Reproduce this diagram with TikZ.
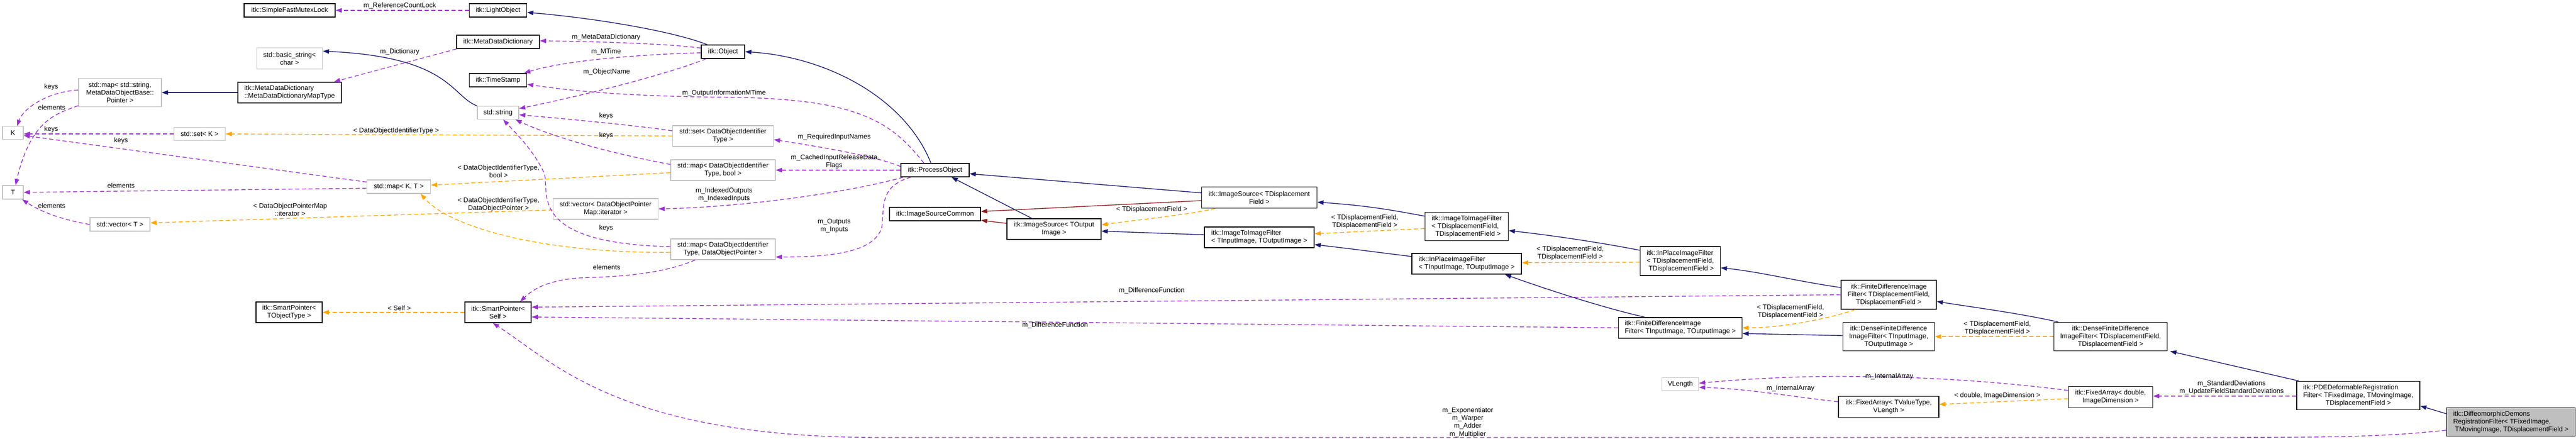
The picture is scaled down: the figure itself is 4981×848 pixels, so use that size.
\documentclass[tikz,border=0pt]{standalone}
\usepackage{fontspec}
\setmainfont{Liberation Sans}
\usetikzlibrary{arrows.meta,calc}
\definecolor{navy}{HTML}{191970}
\definecolor{dred}{HTML}{8B1A1A}
\definecolor{purp}{HTML}{9A32CD}
\definecolor{orng}{HTML}{FFA500}
\definecolor{gbord}{HTML}{BFBFBF}
\definecolor{gfill}{HTML}{BFBFBF}
\newcommand\fs{\fontsize{3.7}{4.3}\selectfont}
\tikzset{
 base/.style={draw, line width=0.45pt, inner sep=0pt, font=\fs, align=center, fill=white},
 bk/.style={base, draw=black},
 gy/.style={base, draw=gbord},
 lft/.style={align=left},
 lbl/.style={font=\fs, align=center, inner sep=0pt},
 tip/.style={-{Triangle[length=0.12cm,width=0.085cm]}},
 nv/.style={draw=navy, line width=0.4pt, tip},
 rd/.style={draw=dred, line width=0.4pt, tip},
 pu/.style={draw=purp, line width=0.4pt, dash pattern=on 0.08cm off 0.05cm, tip},
 og/.style={draw=orng, line width=0.4pt, dash pattern=on 0.08cm off 0.05cm, tip},
}
\newcommand\bx[6]{\node[#1, minimum width=#4*0.01cm, minimum height=#5*0.01cm] (#2) at #3 {#6};}
\begin{document}
\begin{tikzpicture}[x=0.01cm,y=-0.01cm]
\useasboundingbox (0,0) rectangle (4981,848);
% nodes
\bx{bk}{smfl}{(560,20)}{176}{26}{itk::SimpleFastMutexLock}
\bx{gy}{bstr}{(560,113)}{127}{41}{std::basic\_string<\\char >}
\bx{gy}{mapstr}{(232,179)}{160}{55}{std::map< std::string,\\MetaDataObjectBase::\\Pointer >}
\bx{bk,lft}{mdmt}{(560,179)}{200}{40}{itk::MetaDataDictionary\\::MetaDataDictionaryMapType}
\bx{gy}{K}{(25,257)}{40}{25}{K}
\bx{gy}{setK}{(386,259)}{99}{25}{std::set< K >}
\bx{gy}{T}{(25,372)}{40}{26}{T}
\bx{gy}{mapKT}{(771,361)}{123}{26}{std::map< K, T >}
\bx{gy}{vecT}{(232,434)}{116}{26}{std::vector< T >}
\bx{bk}{spto}{(559,604)}{128}{40}{itk::SmartPointer<\\TObjectType >}
\bx{bk}{lo}{(963,20)}{111}{26}{itk::LightObject}
\bx{bk}{mdd}{(963,81)}{160}{26}{itk::MetaDataDictionary}
\bx{bk}{obj}{(1398,100)}{84}{26}{itk::Object}
\bx{bk}{ts}{(963,155)}{111}{26}{itk::TimeStamp}
\bx{gy}{str}{(963,218)}{80}{25}{std::string}
\bx{gy}{setD}{(1398,263)}{195}{40}{std::set< DataObjectIdentifier\\Type >}
\bx{gy}{mapDb}{(1398,329)}{202}{40}{std::map< DataObjectIdentifier\\Type, bool >}
\bx{gy}{vecI}{(1171,404)}{203}{40}{std::vector< DataObjectPointer\\Map::iterator >}
\bx{gy}{mapDP}{(1398,482)}{202}{40}{std::map< DataObjectIdentifier\\Type, DataObjectPointer >}
\bx{bk}{sps}{(963,604)}{128}{40}{itk::SmartPointer<\\Self >}
\bx{bk}{po}{(1808,329)}{132}{26}{itk::ProcessObject}
\bx{bk}{isc}{(1808,414)}{176}{26}{itk::ImageSourceCommon}
\bx{bk}{isto}{(2038,443)}{182}{40}{itk::ImageSource< TOutput\\Image >}
\bx{bk}{isdf}{(2435,382)}{223}{41}{itk::ImageSource< TDisplacement\\Field >}
\bx{bk,lft}{iito}{(2435,459)}{212}{40}{itk::ImageToImageFilter\\< TInputImage, TOutputImage >}
\bx{bk,lft}{iidf}{(2836,438)}{161}{55}{itk::ImageToImageFilter\\< TDisplacementField,\\\ \ TDisplacementField >}
\bx{bk,lft}{ipto}{(2836,510)}{212}{40}{itk::InPlaceImageFilter\\< TInputImage, TOutputImage >}
\bx{bk,lft}{ipdf}{(3249,505)}{155}{56}{itk::InPlaceImageFilter\\< TDisplacementField,\\\ TDisplacementField >}
\bx{bk,lft}{fdto}{(3249,634)}{239}{40}{itk::FiniteDifferenceImage\\Filter< TInputImage, TOutputImage >}
\bx{gy}{vl}{(3249,743)}{71}{25}{VLength}
\bx{bk}{fddf}{(3652,570)}{184}{56}{itk::FiniteDifferenceImage\\Filter< TDisplacementField,\\TDisplacementField >}
\bx{bk}{dfto}{(3652,651)}{177}{55}{itk::DenseFiniteDifference\\ImageFilter< TInputImage,\\TOutputImage >}
\bx{bk}{dfdf}{(4081,651)}{219}{55}{itk::DenseFiniteDifference\\ImageFilter< TDisplacementField,\\TDisplacementField >}
\bx{bk}{fatv}{(3652,787)}{194}{41}{itk::FixedArray< TValueType,\\VLength >}
\bx{bk}{fad}{(4081,768)}{163}{41}{itk::FixedArray< double,\\ImageDimension >}
\bx{bk,lft}{pde}{(4560,765)}{238}{55}{itk::PDEDeformableRegistration\\Filter< TFixedImage, TMovingImage,\\\ \ \ \ \ \ \ \ \ \ \ \ TDisplacementField >}
\bx{bk,lft,fill=gfill}{dif}{(4855,816)}{249}{55}{itk::DiffeomorphicDemons\\RegistrationFilter< TFixedImage,\\\ TMovingImage, TDisplacementField >}
% edges
\draw[pu] (lo.west) -- (smfl.east);
\draw[pu] (mdd.south west) to[out=195,in=15] ($(mdmt.north east)+(-15,0)$);
\draw[nv] (str.north west) .. controls (872,185) and (870,110) .. ($(bstr.east)+(0,-14)$);
\draw[nv] (mdmt.west) -- (mapstr.east);
\draw[pu] ($(mapstr.west)+(0,-5)$) .. controls (90,178) and (45,210) .. ($(K.north)+(8,0)$);
\draw[pu] ($(mapstr.south west)+(0,-3)$) .. controls (110,220) and (60,230) .. ($(T.north)+(5,0)$);
\draw[pu] (setK.west) -- ($(K.east)+(0,2)$);
\draw[pu] ($(mapKT.west)+(0,-9)$) -- ($(K.east)+(0,5)$);
\draw[pu] ($(mapKT.west)+(0,3)$) -- (T.east);
\draw[pu] (vecT.west) .. controls (120,425) and (80,410) .. ($(T.south east)+(-3,0)$);
\draw[og] (setD.west) -- (setK.east);
\draw[og] ($(mapDb.west)+(0,5)$) -- ($(mapKT.east)+(0,-3)$);
\draw[og] ($(mapDP.west)+(0,6)$) .. controls (1050,490) and (870,440) .. ($(mapKT.south east)+(-20,0)$);
\draw[og] ($(vecI.west)+(0,2)$) -- ($(vecT.east)+(0,-3)$);
\draw[nv] ($(obj.north west)+(12,0)$) .. controls (1300,60) and (1150,35) .. ($(lo.east)+(0,4)$);
\draw[pu] ($(obj.west)+(0,-7)$) .. controls (1300,85) and (1150,80) .. ($(mdd.east)+(0,-2)$);
\draw[pu] ($(obj.west)+(0,2)$) .. controls (1250,105) and (1100,115) .. ($(ts.north east)+(-6,0)$);
\draw[pu] ($(obj.south west)+(10,0)$) .. controls (1300,140) and (1150,180) .. ($(str.east)+(0,-8)$);
\draw[nv] ($(po.north)+(-8,0)$) .. controls (1750,190) and (1600,110) .. (obj.east);
\draw[pu] ($(po.north west)+(45,0)$) .. controls (1720,230) and (1650,190) .. (1400,188) .. controls (1200,186) and (1100,175) .. ($(ts.east)+(0,8)$);
\draw[pu] ($(setD.west)+(0,-10)$) .. controls (1250,245) and (1100,230) .. ($(str.east)+(0,4)$);
\draw[pu] ($(mapDb.west)+(0,-11)$) .. controls (1200,300) and (1080,270) .. ($(str.south east)+(-7,0)$);
\draw[pu] ($(mapDP.west)+(0,-5)$) .. controls (1000,470) and (1070,360) .. (1050,330) .. controls (1030,290) and (1000,260) .. ($(str.south)+(10,0)$);
\draw[pu] ($(po.west)+(0,-7)$) .. controls (1690,300) and (1560,280) .. ($(setD.east)+(0,7)$);
\draw[pu] (po.west) -- (mapDb.east);
\draw[pu] ($(po.south west)+(5,0)$) .. controls (1650,370) and (1450,400) .. ($(vecI.east)+(0,0)$);
\draw[pu] ($(po.south west)+(20,0)$) .. controls (1700,360) and (1710,400) .. (1705,440) .. controls (1690,490) and (1600,497) .. ($(mapDP.east)+(0,15)$);
\draw[pu] ($(mapDP.south west)+(48,0)$) .. controls (1280,530) and (1200,535) .. (1130,537) .. controls (1060,540) and (1030,560) .. ($(sps.north east)+(-22,0)$);
\draw[pu] ($(fddf.west)+(0,0)$) -- ($(sps.east)+(0,-10)$);
\draw[pu] (fdto.west) -- ($(sps.east)+(0,9)$);
\draw[pu] ($(dif.west)+(0,16)$) .. controls (4600,846) and (4500,846) .. (4200,846) -- (1700,846) .. controls (1200,846) and (1070,700) .. ($(sps.south)+(-10,0)$);
\draw[og] (sps.west) -- (spto.east);
\draw[nv] ($(isto.north)+(-43,0)$) -- ($(po.south)+(32,0)$);
\draw[rd] ($(isto.west)+(0,-11)$) -- ($(isc.east)+(0,12)$);
\draw[nv] ($(isdf.west)+(0,-9)$) -- ($(po.east)+(0,7)$);
\draw[rd] ($(isdf.west)+(0,6)$) -- ($(isc.east)+(0,-5)$);
\draw[og] ($(isdf.south west)+(27,0)$) .. controls (2300,415) and (2200,425) .. ($(isto.east)+(0,-8)$);
\draw[nv] ($(iito.west)+(0,-5)$) -- ($(isto.east)+(0,4)$);
\draw[nv] ($(iidf.west)+(0,-20)$) .. controls (2700,408) and (2650,398) .. ($(isdf.east)+(0,9)$);
\draw[og] ($(iidf.west)+(0,4)$) -- ($(iito.east)+(0,-7)$);
\draw[nv] ($(ipto.west)+(0,-14)$) .. controls (2680,490) and (2620,482) .. ($(iito.east)+(0,14)$);
\draw[nv] ($(ipdf.west)+(0,-21)$) .. controls (3100,470) and (3000,455) .. ($(iidf.east)+(0,8)$);
\draw[og] ($(ipdf.west)+(0,2)$) -- ($(ipto.east)+(0,-2)$);
\draw[nv] ($(fdto.north)+(-69,0)$) .. controls (3120,600) and (3020,570) .. ($(ipto.south)+(74,0)$);
\draw[nv] ($(fddf.west)+(0,-14)$) .. controls (3480,545) and (3400,525) .. ($(ipdf.east)+(0,13)$);
\draw[og] ($(fddf.south)+(-65,0)$) .. controls (3540,615) and (3450,634) .. ($(fdto.east)+(0,0)$);
\draw[nv] ($(dfto.west)+(0,-2)$) -- ($(fdto.east)+(0,11)$);
\draw[nv] ($(dfdf.north)+(-101,0)$) .. controls (3900,605) and (3820,595) .. ($(fddf.east)+(0,13)$);
\draw[og] (dfdf.west) -- (dfto.east);
\draw[nv] ($(pde.north)+(-115,0)$) -- ($(dfdf.south east)+(5,0)$);
\draw[nv] ($(dif.west)+(0,-16)$) -- ($(pde.east)+(0,20)$);
\draw[pu] ($(pde.west)+(0,1)$) -- ($(fad.east)+(0,-2)$);
\draw[og] ($(fad.west)+(0,3)$) -- ($(fatv.east)+(0,-5)$);
\draw[pu] ($(fad.west)+(0,-13)$) .. controls (3800,730) and (3650,728) .. (3550,728) .. controls (3450,728) and (3350,735) .. ($(vl.east)+(0,-2)$);
\draw[pu] ($(fatv.west)+(0,-10)$) .. controls (3450,765) and (3380,752) .. ($(vl.east)+(0,6)$);
% labels
\node[lbl] (l1) at (773,11) {m\_ReferenceCountLock};
\node[lbl] (l2) at (773,100) {m\_Dictionary};
\node[lbl] (l3) at (99,168) {keys};
\node[lbl] (l4) at (100,208) {elements};
\node[lbl] (l5) at (99,250) {keys};
\node[lbl] (l6) at (234,272) {keys};
\node[lbl] (l7) at (234,359) {elements};
\node[lbl] (l8) at (100,398) {elements};
\node[lbl] (l9) at (766,253) {< DataObjectIdentifierType >};
\node[lbl] (l10) at (964,331) {< DataObjectIdentifierType,\\bool >};
\node[lbl] (l11) at (964,396) {< DataObjectIdentifierType,\\DataObjectPointer >};
\node[lbl] (l12) at (561,405) {< DataObjectPointerMap\\::iterator >};
\node[lbl] (l13) at (1172,72) {m\_MetaDataDictionary};
\node[lbl] (l14) at (1172,100) {m\_MTime};
\node[lbl] (l15) at (1173,139) {m\_ObjectName};
\node[lbl] (l16) at (1400,180) {m\_OutputInformationMTime};
\node[lbl] (l17) at (1172,224) {keys};
\node[lbl] (l18) at (1172,262) {keys};
\node[lbl] (l19) at (1172,441) {keys};
\node[lbl] (l20) at (1613,265) {m\_RequiredInputNames};
\node[lbl] (l21) at (1613,313) {m\_CachedInputReleaseData\\Flags};
\node[lbl] (l22) at (1400,377) {m\_IndexedOutputs\\m\_IndexedInputs};
\node[lbl] (l23) at (1613,437) {m\_Outputs\\m\_Inputs};
\node[lbl] (l24) at (1173,517) {elements};
\node[lbl] (l25) at (772,596) {< Self >};
\node[lbl] (l26) at (2227,405) {< TDisplacementField >};
\node[lbl] (l27) at (2227,562) {m\_DifferenceFunction};
\node[lbl] (l28) at (2040,629) {m\_DifferenceFunction};
\node[lbl] (l29) at (2639,429) {< TDisplacementField,\\TDisplacementField >};
\node[lbl] (l30) at (3036,490) {< TDisplacementField,\\TDisplacementField >};
\node[lbl] (l31) at (3462,603) {< TDisplacementField,\\TDisplacementField >};
\node[lbl] (l32) at (3862,635) {< TDisplacementField,\\TDisplacementField >};
\node[lbl] (l33) at (2838,817) {m\_Exponentiator\\m\_Warper\\m\_Adder\\m\_Multiplier};
\node[lbl] (l34) at (3653,728) {m\_InternalArray};
\node[lbl] (l35) at (3462,751) {m\_InternalArray};
\node[lbl] (l36) at (3862,765) {< double, ImageDimension >};
\node[lbl] (l37) at (4315,750) {m\_StandardDeviations\\m\_UpdateFieldStandardDeviations};
\end{tikzpicture}
\end{document}
